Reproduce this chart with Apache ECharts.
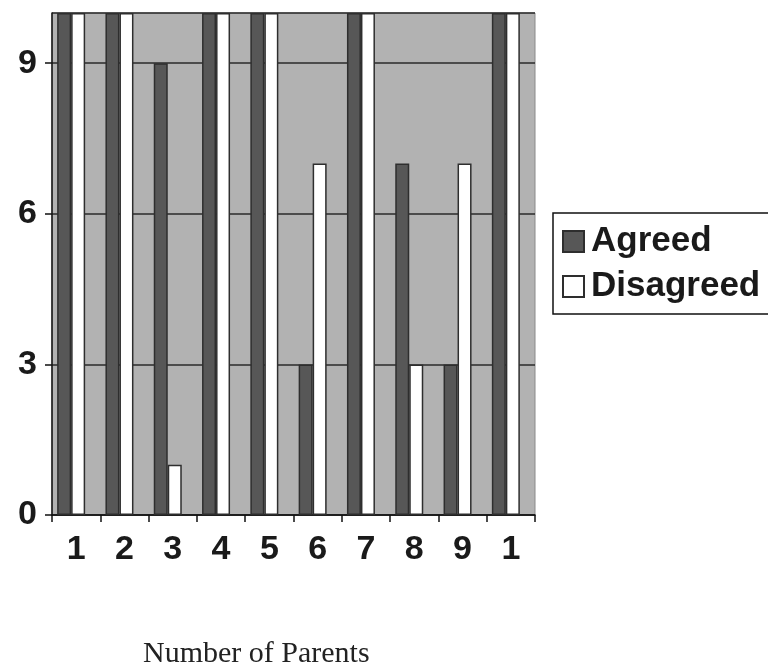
<!DOCTYPE html>
<html>
<head>
<meta charset="utf-8">
<script src="https://cdn.jsdelivr.net/npm/echarts@6/dist/echarts.min.js"></script>
<style>
  html, body { margin: 0; padding: 0; background: #fff; }
  #chart { width: 768px; height: 672px; }
</style>
</head>
<body>
<div id="chart"></div>
<script>
// Parent responses per item
const categories = ['1', '2', '3', '4', '5', '6', '7', '8', '9', '1'];
const agreed = [10, 10, 9, 10, 10, 3, 10, 7, 3, 10];
const disagreed = [10, 10, 1, 10, 10, 7, 10, 3, 7, 10];
const yMin = 0;
const yMax = 10;
const yStep = 3;

const chart = echarts.init(document.getElementById('chart'));

const labelFont = {
  fontFamily: 'Liberation Sans, Arial, sans-serif',
  fontWeight: 'bold',
  fontSize: 34,
  color: '#1a1a1a'
};

chart.setOption({
  animation: false,
  backgroundColor: '#ffffff',
  title: {
    text: 'Number of Parents',
    left: 138,
    top: 634,
    textStyle: {
      fontFamily: 'Liberation Serif, Times New Roman, serif',
      fontWeight: 'normal',
      fontSize: 30,
      color: '#222'
    }
  },
  legend: {
    orient: 'vertical',
    left: 553,
    top: 213,
    itemWidth: 21,
    itemHeight: 21,
    itemGap: 10,
    padding: [11, 12, 10, 9],
    borderColor: '#111',
    borderWidth: 1.5,
    backgroundColor: '#fff',
    textStyle: Object.assign({}, labelFont, { fontSize: 35, padding: [0, 0, 0, 2] }),
    data: [
      { name: 'Agreed', icon: 'rect' },
      { name: 'Disagreed', icon: 'rect' }
    ]
  },
  grid: [
    {
      left: 52, right: 233, top: 13, bottom: 157,
      show: true,
      backgroundColor: '#b2b2b2',
      borderColor: '#8a8a8a',
      borderWidth: 1
    },
    {
      left: 47, right: 238, top: 13, bottom: 157,
      show: false
    }
  ],
  xAxis: [
    {
      type: 'category',
      gridIndex: 0,
      data: categories,
      boundaryGap: true,
      axisLine: { show: true, lineStyle: { color: '#111', width: 1.5 } },
      axisTick: { show: true, length: 7, lineStyle: { color: '#111', width: 1.5 } },
      axisLabel: Object.assign({}, labelFont, { margin: 18, interval: 0 }),
      splitLine: { show: false }
    },
    {
      type: 'category',
      gridIndex: 1,
      data: categories,
      show: false
    }
  ],
  yAxis: [
    {
      type: 'value',
      gridIndex: 0,
      min: yMin,
      max: yMax,
      interval: yStep,
      axisLine: { show: true, lineStyle: { color: '#111', width: 1.5 } },
      axisTick: { show: true, length: 7, lineStyle: { color: '#111', width: 1.5 } },
      axisLabel: Object.assign({}, labelFont, {
        margin: 15,
        showMaxLabel: false,
        formatter: v => (v % yStep === 0 ? String(v) : '')
      }),
      splitLine: { show: true, lineStyle: { color: '#2a2a2a', width: 1.5 } }
    },
    {
      type: 'value',
      gridIndex: 1,
      min: yMin,
      max: yMax,
      show: false,
      splitLine: { show: false }
    }
  ],
  series: [
    {
      name: 'Agreed',
      type: 'bar',
      xAxisIndex: 1,
      yAxisIndex: 1,
      data: agreed,
      barWidth: 14,
      barGap: '0%',
      itemStyle: { color: '#575757', borderColor: '#2e2e2e', borderWidth: 1.5 }
    },
    {
      name: 'Disagreed',
      type: 'bar',
      xAxisIndex: 1,
      yAxisIndex: 1,
      data: disagreed,
      barWidth: 14,
      barGap: '0%',
      itemStyle: { color: '#ffffff', borderColor: '#2e2e2e', borderWidth: 1.5 }
    }
  ]
});
</script>
</body>
</html>
